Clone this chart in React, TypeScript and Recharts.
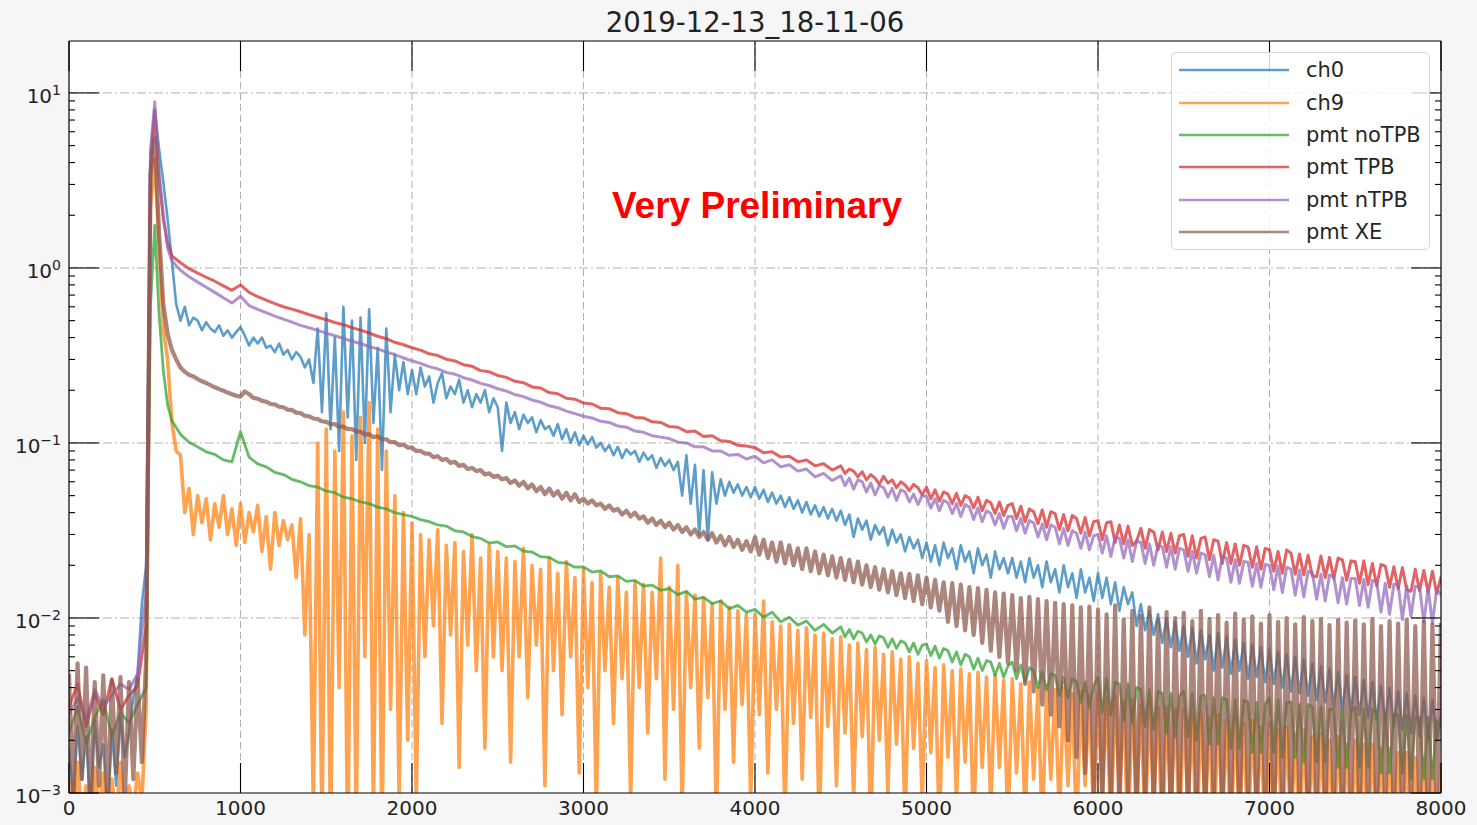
import React from 'react';
import { LineChart, Line, XAxis, YAxis, ReferenceLine } from 'recharts';

// sample positions (time bins)
const span = (from: number, to: number, step: number): number[] => {
  const out: number[] = [];
  for (let t = from; t <= to; t += step) out.push(t);
  return out;
};
const TIME_FINE = span(0, 8000, 25);
// PMT traces: 50 ns bins, finer around the peak and in the noisy tail
const TIME_PMT = [...span(0, 450, 50), 475, 500, 525, 550, 575, ...span(600, 4450, 50), ...span(4500, 8000, 25)];

// ---- fine-binned channels (TIME_FINE, 20 values per row = 500 ns) ----
const CH0 = [
  0.0018, 0.0009, 0.0024, 0.0012, 0.0021, 0.0008, 0.0026, 0.0014, 0.0019, 0.0007, 0.0023, 0.0011, 0.0027, 0.0016, 0.0022, 0.0035, 0.0048, 0.012, 0.02, 4.5,
  8.1, 4.8, 3.1, 1.9, 1.1, 0.62, 0.5, 0.6, 0.47, 0.52, 0.5, 0.44, 0.49, 0.45, 0.43, 0.47, 0.41, 0.44, 0.4, 0.43,
  0.46, 0.41, 0.36, 0.4, 0.37, 0.4, 0.35, 0.36, 0.33, 0.37, 0.32, 0.34, 0.3, 0.33, 0.31, 0.27, 0.3, 0.22, 0.45, 0.15,
  0.55, 0.12, 0.4, 0.09, 0.6, 0.14, 0.5, 0.08, 0.52, 0.1, 0.58, 0.13, 0.35, 0.07, 0.45, 0.15, 0.32, 0.2, 0.29, 0.19,
  0.26, 0.19, 0.27, 0.21, 0.24, 0.17, 0.22, 0.25, 0.18, 0.21, 0.19, 0.23, 0.17, 0.2, 0.16, 0.19, 0.17, 0.2, 0.15, 0.18,
  0.16, 0.09, 0.17, 0.13, 0.15, 0.12, 0.145, 0.13, 0.14, 0.115, 0.135, 0.12, 0.125, 0.11, 0.128, 0.105, 0.12, 0.1, 0.115, 0.097,
  0.11, 0.098, 0.108, 0.094, 0.1, 0.09, 0.097, 0.085, 0.095, 0.082, 0.092, 0.086, 0.09, 0.078, 0.088, 0.08, 0.085, 0.072, 0.082, 0.074,
  0.08, 0.07, 0.078, 0.05, 0.085, 0.045, 0.075, 0.03, 0.07, 0.028, 0.068, 0.045, 0.062, 0.05, 0.06, 0.052, 0.058, 0.05, 0.056, 0.049,
  0.056, 0.048, 0.054, 0.046, 0.052, 0.045, 0.05, 0.043, 0.049, 0.042, 0.047, 0.04, 0.046, 0.039, 0.044, 0.038, 0.043, 0.037, 0.042, 0.036,
  0.041, 0.034, 0.039, 0.029, 0.037, 0.032, 0.036, 0.028, 0.034, 0.03, 0.033, 0.026, 0.032, 0.027, 0.03, 0.024, 0.029, 0.025, 0.028, 0.022,
  0.027, 0.021, 0.026, 0.02, 0.027, 0.022, 0.025, 0.019, 0.026, 0.021, 0.024, 0.018, 0.025, 0.02, 0.023, 0.017, 0.024, 0.019, 0.022, 0.018,
  0.022, 0.017, 0.021, 0.016, 0.022, 0.017, 0.02, 0.015, 0.021, 0.016, 0.019, 0.014, 0.02, 0.015, 0.018, 0.013, 0.019, 0.014, 0.017, 0.0125,
  0.018, 0.013, 0.017, 0.012, 0.016, 0.011, 0.015, 0.012, 0.014, 0.009, 0.012, 0.0085, 0.011, 0.008, 0.0105, 0.0072, 0.01, 0.0068, 0.0095, 0.0065,
  0.009, 0.006, 0.0088, 0.0055, 0.0085, 0.0058, 0.008, 0.005, 0.0082, 0.0052, 0.0078, 0.0048, 0.0075, 0.005, 0.0072, 0.0045, 0.007, 0.0046, 0.0068, 0.0043,
  0.0066, 0.0042, 0.0064, 0.004, 0.0062, 0.0038, 0.006, 0.0037, 0.0058, 0.0036, 0.0055, 0.0034, 0.0053, 0.0033, 0.0051, 0.0031, 0.0049, 0.003, 0.0047, 0.0029,
  0.0046, 0.0028, 0.0044, 0.0027, 0.0043, 0.0026, 0.0041, 0.0025, 0.004, 0.0024, 0.0038, 0.0023, 0.0037, 0.0022, 0.0036, 0.0021, 0.0035, 0.002, 0.0034, 0.002,
  0.0028,
];

const CH9 = [
  0.0012, 0.0006, 0.0015, 0.0007, 0.0011, 0.0005, 0.0014, 0.0008, 0.0013, 0.0006, 0.0012, 0.0007, 0.0015, 0.0006, 0.0011, 0.0008, 0.0013, 0.0009, 0.003, 2.2,
  4.2, 1.3, 0.45, 0.3, 0.13, 0.09, 0.085, 0.04, 0.055, 0.03, 0.05, 0.035, 0.048, 0.028, 0.045, 0.033, 0.05, 0.03, 0.042, 0.026,
  0.045, 0.027, 0.04, 0.031, 0.044, 0.024, 0.038, 0.019, 0.04, 0.026, 0.036, 0.028, 0.034, 0.017, 0.037, 0.008, 0.03, 0.0008, 0.1, 0.0006,
  0.12, 0.0005, 0.09, 0.004, 0.15, 0.0004, 0.11, 0.0006, 0.14, 0.006, 0.17, 0.0007, 0.12, 0.0005, 0.09, 0.003, 0.05, 0.0009, 0.04, 0.002,
  0.035, 0.0009, 0.03, 0.006, 0.028, 0.009, 0.032, 0.0025, 0.026, 0.008, 0.027, 0.0014, 0.024, 0.007, 0.03, 0.005, 0.022, 0.0018, 0.026, 0.006,
  0.024, 0.005, 0.022, 0.0015, 0.021, 0.006, 0.025, 0.0035, 0.02, 0.007, 0.019, 0.0011, 0.022, 0.005, 0.018, 0.0028, 0.021, 0.006, 0.017, 0.0013,
  0.019, 0.004, 0.016, 0.0008, 0.018, 0.005, 0.015, 0.0025, 0.017, 0.0045, 0.014, 0.0009, 0.016, 0.004, 0.0155, 0.0022, 0.014, 0.0045, 0.022, 0.0012,
  0.015, 0.003, 0.02, 0.0008, 0.014, 0.004, 0.0135, 0.0018, 0.013, 0.0035, 0.012, 0.0007, 0.0125, 0.003, 0.0115, 0.0015, 0.011, 0.0032, 0.0105, 0.0009,
  0.0105, 0.0028, 0.0125, 0.0013, 0.0095, 0.003, 0.009, 0.0007, 0.0092, 0.0025, 0.0085, 0.0012, 0.0088, 0.0027, 0.008, 0.0006, 0.0082, 0.0024, 0.0076, 0.0011,
  0.0078, 0.0022, 0.007, 0.0009, 0.0072, 0.0021, 0.0066, 0.0006, 0.0068, 0.002, 0.0062, 0.001, 0.0064, 0.0019, 0.0058, 0.0007, 0.006, 0.0018, 0.0055, 0.0009,
  0.0057, 0.0017, 0.0052, 0.0006, 0.0054, 0.0016, 0.005, 0.0009, 0.0051, 0.0015, 0.0048, 0.0006, 0.0049, 0.0014, 0.0046, 0.0008, 0.0047, 0.0014, 0.0044, 0.0006,
  0.0045, 0.0013, 0.0042, 0.0007, 0.0043, 0.0012, 0.004, 0.0006, 0.0041, 0.0012, 0.0039, 0.0007, 0.004, 0.0011, 0.0037, 0.0006, 0.0038, 0.0011, 0.0036, 0.0007,
  0.0037, 0.001, 0.0035, 0.0006, 0.0036, 0.001, 0.0033, 0.0005, 0.0034, 0.0009, 0.0032, 0.0006, 0.0033, 0.0009, 0.0031, 0.0005, 0.0031, 0.0008, 0.003, 0.0006,
  0.003, 0.0008, 0.0028, 0.0005, 0.0029, 0.0008, 0.0027, 0.0005, 0.0028, 0.0007, 0.0026, 0.0005, 0.0027, 0.0007, 0.0025, 0.0005, 0.0026, 0.0007, 0.0024, 0.0005,
  0.0025, 0.0007, 0.0023, 0.0005, 0.0024, 0.0006, 0.0022, 0.0005, 0.0023, 0.0006, 0.0021, 0.0005, 0.0022, 0.0006, 0.002, 0.0005, 0.0021, 0.0006, 0.0019, 0.0005,
  0.002, 0.0006, 0.0019, 0.0005, 0.0019, 0.0006, 0.0018, 0.0005, 0.0018, 0.0006, 0.0017, 0.0005, 0.0017, 0.0006, 0.0016, 0.0005, 0.0016, 0.0006, 0.0015, 0.0005,
  0.0015,
];

const PMT_XE = [
  0.0048, 0.0009, 0.0055, 0.0012, 0.0052, 0.0007, 0.0043, 0.0011, 0.0047, 0.0008, 0.0044, 0.0013, 0.0046, 0.0009, 0.0043, 0.0012, 0.0045, 0.0015, 0.006, 3.5,
  5.5, 1.6, 0.62, 0.42, 0.34, 0.3, 0.27, 0.255, 0.245, 0.24, 0.232, 0.225, 0.22, 0.214, 0.208, 0.203, 0.199, 0.194, 0.19, 0.186,
  0.184, 0.197, 0.19, 0.181, 0.179, 0.174, 0.172, 0.167, 0.166, 0.161, 0.16, 0.155, 0.154, 0.149, 0.148, 0.143, 0.142, 0.138, 0.137, 0.133,
  0.132, 0.128, 0.128, 0.124, 0.124, 0.12, 0.12, 0.116, 0.116, 0.112, 0.112, 0.108, 0.109, 0.105, 0.105, 0.101, 0.101, 0.097, 0.098, 0.094,
  0.094, 0.09, 0.09, 0.087, 0.087, 0.083, 0.084, 0.08, 0.081, 0.077, 0.078, 0.074, 0.075, 0.071, 0.072, 0.069, 0.07, 0.066, 0.067, 0.064,
  0.065, 0.062, 0.063, 0.059, 0.061, 0.057, 0.06, 0.055, 0.058, 0.053, 0.056, 0.051, 0.055, 0.05, 0.053, 0.048, 0.052, 0.047, 0.051, 0.046,
  0.048, 0.045, 0.047, 0.044, 0.045, 0.042, 0.044, 0.041, 0.042, 0.039, 0.041, 0.038, 0.04, 0.037, 0.038, 0.035, 0.037, 0.034, 0.036, 0.033,
  0.035, 0.032, 0.034, 0.031, 0.033, 0.03, 0.032, 0.029, 0.031, 0.028, 0.0305, 0.027, 0.0295, 0.026, 0.029, 0.0255, 0.028, 0.0245, 0.0275, 0.024,
  0.029, 0.023, 0.028, 0.022, 0.027, 0.021, 0.027, 0.0205, 0.026, 0.02, 0.025, 0.019, 0.025, 0.0185, 0.024, 0.018, 0.023, 0.0175, 0.0225, 0.017,
  0.022, 0.0165, 0.0215, 0.016, 0.021, 0.0155, 0.02, 0.015, 0.0195, 0.0145, 0.019, 0.014, 0.0185, 0.0135, 0.018, 0.013, 0.0178, 0.0125, 0.0175, 0.012,
  0.017, 0.0115, 0.0165, 0.011, 0.016, 0.0095, 0.0158, 0.009, 0.0155, 0.0085, 0.015, 0.008, 0.0148, 0.0072, 0.0145, 0.0065, 0.014, 0.006, 0.0138, 0.0055,
  0.0135, 0.005, 0.013, 0.0042, 0.0132, 0.0038, 0.0128, 0.0032, 0.0125, 0.0028, 0.0122, 0.0024, 0.012, 0.002, 0.0118, 0.0016, 0.0115, 0.0013, 0.0116, 0.001,
  0.0112, 0.0008, 0.0105, 0.0009, 0.0118, 0.0007, 0.0098, 0.001, 0.011, 0.0006, 0.0103, 0.0009, 0.0115, 0.0007, 0.0097, 0.0008, 0.0108, 0.0006, 0.01, 0.0009,
  0.0107, 0.0007, 0.0096, 0.0008, 0.011, 0.0006, 0.0099, 0.0009, 0.0104, 0.0007, 0.0094, 0.0008, 0.0106, 0.0006, 0.0098, 0.0009, 0.0102, 0.0007, 0.0093, 0.0008,
  0.0104, 0.0006, 0.0095, 0.0008, 0.01, 0.0007, 0.0092, 0.0009, 0.0101, 0.0006, 0.0096, 0.0008, 0.0099, 0.0007, 0.0091, 0.0008, 0.0098, 0.0006, 0.0094, 0.0008,
  0.0097, 0.0007, 0.0092, 0.0008, 0.0099, 0.0006, 0.009, 0.0008, 0.0096, 0.0007, 0.0093, 0.0006, 0.0098, 0.0008, 0.009, 0.0007, 0.0095, 0.0006, 0.0092, 0.0008,
  0.0094,
];

// ---- PMT traces on TIME_PMT: 0-450 | 475-575 | 600-950 | 10 per row to 4450 | 20 per row from 4500 ----
const PMT_NOTPB = [
  0.0022, 0.0031, 0.0019, 0.0027, 0.0034, 0.0021, 0.0029, 0.0025, 0.0032, 0.004,
  0.6, 1.75, 0.55, 0.26, 0.165,
  0.134, 0.112, 0.101, 0.095, 0.089, 0.086, 0.08, 0.078,
  0.116, 0.083, 0.076, 0.073, 0.068, 0.066, 0.062, 0.06, 0.057, 0.056,
  0.053, 0.052, 0.049, 0.048, 0.046, 0.045, 0.043, 0.042, 0.04, 0.039,
  0.038, 0.0365, 0.0355, 0.034, 0.0335, 0.0315, 0.031, 0.0292, 0.0285, 0.0268,
  0.0272, 0.0255, 0.0258, 0.0241, 0.0238, 0.0224, 0.0222, 0.0208, 0.0206, 0.0195,
  0.0196, 0.0183, 0.0186, 0.0172, 0.0174, 0.0162, 0.0164, 0.0152, 0.0154, 0.0144,
  0.0147, 0.0136, 0.0142, 0.0128, 0.0131, 0.0121, 0.0125, 0.0113, 0.0118, 0.0108,
  0.0112, 0.0101, 0.0108, 0.0095, 0.0101, 0.0091, 0.0096, 0.0085, 0.0092, 0.0082,
  0.0089, 0.0078, 0.0086, 0.0076, 0.0084, 0.0082, 0.0073, 0.008, 0.0071, 0.0079, 0.0077, 0.0068, 0.0076, 0.0067, 0.0074, 0.0072, 0.0064, 0.0072, 0.0062, 0.007,
  0.0071, 0.0061, 0.0069, 0.0059, 0.0067, 0.0065, 0.0056, 0.0064, 0.0054, 0.0062, 0.006, 0.0051, 0.0059, 0.005, 0.0057, 0.0056, 0.0047, 0.0055, 0.0046, 0.0053,
  0.0056, 0.0045, 0.0054, 0.0043, 0.0052, 0.005, 0.004, 0.0049, 0.0039, 0.0048, 0.0047, 0.0036, 0.0046, 0.0035, 0.0045, 0.0043, 0.0033, 0.0043, 0.0031, 0.0041,
  0.0046, 0.0029, 0.0045, 0.0028, 0.0043, 0.0042, 0.0026, 0.0042, 0.0025, 0.004, 0.0039, 0.0024, 0.0039, 0.0023, 0.0038, 0.0037, 0.0022, 0.0037, 0.0021, 0.0036,
  0.0038, 0.0021, 0.0037, 0.002, 0.0036, 0.0036, 0.0019, 0.0035, 0.0019, 0.0035, 0.0034, 0.0018, 0.0034, 0.0018, 0.0034, 0.0033, 0.0017, 0.0033, 0.0017, 0.0032,
  0.0035, 0.0017, 0.0034, 0.0016, 0.0033, 0.0033, 0.0016, 0.0032, 0.0015, 0.0032, 0.0031, 0.0015, 0.0031, 0.0015, 0.003, 0.003, 0.0014, 0.003, 0.0014, 0.0029,
  0.0031, 0.0014, 0.003, 0.0014, 0.003, 0.0029, 0.0013, 0.0029, 0.0013, 0.0028, 0.0028, 0.0013, 0.0028, 0.0012, 0.0027, 0.0027, 0.0012, 0.0027, 0.0012, 0.0026,
  0.0024,
];

const PMT_TPB = [
  0.0031, 0.0042, 0.0024, 0.0037, 0.0028, 0.0045, 0.003, 0.0036, 0.0041, 0.009,
  3.2, 7.8, 3.3, 1.9, 1.38,
  1.17, 1.07, 0.99, 0.935, 0.885, 0.84, 0.79, 0.745,
  0.8, 0.725, 0.685, 0.655, 0.625, 0.6, 0.582, 0.562, 0.541, 0.523,
  0.506, 0.488, 0.474, 0.456, 0.441, 0.425, 0.407, 0.394, 0.376, 0.364,
  0.35, 0.339, 0.323, 0.316, 0.301, 0.294, 0.28, 0.274, 0.259, 0.255,
  0.243, 0.237, 0.225, 0.221, 0.209, 0.206, 0.194, 0.191, 0.18, 0.178,
  0.169, 0.167, 0.158, 0.157, 0.149, 0.147, 0.14, 0.139, 0.132, 0.131,
  0.124, 0.123, 0.116, 0.117, 0.109, 0.11, 0.103, 0.102, 0.097, 0.096,
  0.094, 0.088, 0.089, 0.083, 0.084, 0.078, 0.08, 0.074, 0.076, 0.07,
  0.074, 0.067, 0.071, 0.069, 0.064, 0.0685, 0.0615, 0.066, 0.063, 0.058, 0.0645, 0.059, 0.0615, 0.0555, 0.06, 0.0575, 0.0535, 0.058, 0.0555, 0.0505,
  0.056, 0.048, 0.054, 0.0465, 0.0525, 0.051, 0.045, 0.0515, 0.044, 0.05, 0.0485, 0.0425, 0.049, 0.041, 0.047, 0.0455, 0.0395, 0.046, 0.0385, 0.044,
  0.045, 0.037, 0.0435, 0.0355, 0.042, 0.0405, 0.0345, 0.0415, 0.033, 0.0405, 0.0395, 0.032, 0.039, 0.0315, 0.0385, 0.037, 0.0305, 0.0375, 0.0295, 0.0355,
  0.036, 0.028, 0.035, 0.0355, 0.027, 0.034, 0.0265, 0.0335, 0.026, 0.0275, 0.0325, 0.025, 0.032, 0.031, 0.0245, 0.031, 0.024, 0.0305, 0.0235, 0.0295,
  0.03, 0.0225, 0.0295, 0.022, 0.0285, 0.029, 0.0215, 0.028, 0.0275, 0.0205, 0.027, 0.0205, 0.0265, 0.02, 0.026, 0.0255, 0.0195, 0.0255, 0.019, 0.025,
  0.0245, 0.0185, 0.024, 0.018, 0.0245, 0.0235, 0.0178, 0.0232, 0.0176, 0.0228, 0.0174, 0.0172, 0.0226, 0.017, 0.0222, 0.0168, 0.022, 0.0215, 0.0164, 0.0212,
  0.021, 0.0158, 0.0212, 0.0155, 0.0205, 0.0153, 0.0202, 0.0198, 0.015, 0.0196, 0.0147, 0.0194, 0.0145, 0.0142, 0.019, 0.0143, 0.0187, 0.014, 0.0185, 0.0138,
  0.0172,
];

const PMT_NTPB = [
  0.0028, 0.0035, 0.0026, 0.0039, 0.0031, 0.0036, 0.0042, 0.0039, 0.0048, 0.014,
  4.6, 8.9, 3.5, 2.0, 1.3,
  1.1, 0.97, 0.89, 0.83, 0.775, 0.725, 0.675, 0.63,
  0.69, 0.61, 0.58, 0.555, 0.53, 0.51, 0.49, 0.47, 0.455, 0.44,
  0.424, 0.41, 0.396, 0.381, 0.37, 0.355, 0.345, 0.331, 0.32, 0.306,
  0.295, 0.285, 0.273, 0.265, 0.253, 0.247, 0.236, 0.229, 0.219, 0.213,
  0.204, 0.198, 0.189, 0.184, 0.176, 0.171, 0.163, 0.159, 0.152, 0.147,
  0.142, 0.139, 0.133, 0.131, 0.125, 0.123, 0.117, 0.115, 0.11, 0.108,
  0.106, 0.101, 0.1, 0.095, 0.095, 0.09, 0.09, 0.085, 0.086, 0.081,
  0.084, 0.077, 0.08, 0.073, 0.075, 0.069, 0.071, 0.064, 0.067, 0.061,
  0.065, 0.057, 0.063, 0.0545, 0.0615, 0.06, 0.0525, 0.059, 0.0505, 0.057, 0.0555, 0.049, 0.055, 0.047, 0.054, 0.0525, 0.046, 0.051, 0.0445, 0.05,
  0.0495, 0.0425, 0.048, 0.041, 0.047, 0.0455, 0.0395, 0.045, 0.038, 0.0445, 0.043, 0.0365, 0.0425, 0.0355, 0.041, 0.0395, 0.034, 0.0395, 0.0325, 0.038,
  0.038, 0.0315, 0.037, 0.0305, 0.036, 0.035, 0.029, 0.0345, 0.028, 0.034, 0.033, 0.0265, 0.0325, 0.026, 0.0315, 0.0305, 0.025, 0.031, 0.0245, 0.0295,
  0.03, 0.0235, 0.0295, 0.0225, 0.029, 0.0285, 0.022, 0.028, 0.021, 0.0275, 0.027, 0.0205, 0.0265, 0.02, 0.026, 0.0255, 0.0195, 0.0255, 0.019, 0.025,
  0.0245, 0.0185, 0.024, 0.018, 0.0235, 0.023, 0.0172, 0.0228, 0.0165, 0.0225, 0.022, 0.016, 0.0215, 0.0158, 0.021, 0.0208, 0.0152, 0.0205, 0.015, 0.0202,
  0.02, 0.0145, 0.0198, 0.014, 0.0195, 0.019, 0.0135, 0.0188, 0.0132, 0.0185, 0.018, 0.0128, 0.0178, 0.0125, 0.0176, 0.0172, 0.0122, 0.017, 0.012, 0.0168,
  0.0168, 0.0118, 0.0166, 0.0115, 0.0164, 0.016, 0.0108, 0.0158, 0.0105, 0.0156, 0.0155, 0.0098, 0.0153, 0.0102, 0.0152, 0.015, 0.0095, 0.0148, 0.0093, 0.0147,
  0.0135,
];

// ---- axes ----
const X_TICKS = [0, 1000, 2000, 3000, 4000, 5000, 6000, 7000, 8000];
const X_GRID = [1000, 2000, 3000, 4000, 5000, 6000, 7000];
const Y_MAJOR = [0.001, 0.01, 0.1, 1, 10];
const Y_EXPONENTS = ['\u22123', '\u22122', '\u22121', '0', '1'];
const Y_GRID = [0.01, 0.1, 1, 10];
const Y_MINOR_MULT = [2, 3, 4, 5, 6, 7, 8, 9];
const Y_DOMAIN: [number, number] = [0.001, 19.8];
const Y_TICKS = [
  ...Y_MAJOR,
  ...Y_MAJOR.flatMap((d) => Y_MINOR_MULT.map((m) => +(m * d).toPrecision(3))).filter((v) => v < Y_DOMAIN[1]),
].sort((a, b) => a - b);

const SERIES = [
  { key: 'ch0', name: 'ch0', color: '#1f77b4', width: 2.6 },
  { key: 'ch9', name: 'ch9', color: '#ff7f0e', width: 3.6 },
  { key: 'noTPB', name: 'pmt noTPB', color: '#2ca02c', width: 2.8 },
  { key: 'tpb', name: 'pmt TPB', color: '#d62728', width: 3 },
  { key: 'ntpb', name: 'pmt nTPB', color: '#9467bd', width: 3 },
  { key: 'xe', name: 'pmt XE', color: '#8c564b', width: 4.2 },
];
const ALPHA = 0.72;
const FONT = "'DejaVu Sans', sans-serif";

const pmtMap = (vals: number[]) => new Map(TIME_PMT.map((t, i) => [t, vals[i]]));
const noMap = pmtMap(PMT_NOTPB);
const tpbMap = pmtMap(PMT_TPB);
const ntpbMap = pmtMap(PMT_NTPB);

const DATA = TIME_FINE.map((t, i) => ({
  t,
  ch0: CH0[i],
  ch9: CH9[i],
  xe: PMT_XE[i],
  noTPB: noMap.has(t) ? noMap.get(t) : null,
  tpb: tpbMap.has(t) ? tpbMap.get(t) : null,
  ntpb: ntpbMap.has(t) ? ntpbMap.get(t) : null,
}));

const MAJOR_LEN = 30;
const MINOR_LEN = 6;
const LABEL_GAP = 8;
const isDecade = (v: number) => Math.abs(Math.log10(v) - Math.round(Math.log10(v))) < 1e-6;

const LeftTick = (props: any) => {
  const { x, y, payload } = props;
  const v = payload.value;
  const edge = x + LABEL_GAP;
  const major = isDecade(v);
  const idx = Y_MAJOR.findIndex((m) => Math.abs(m - v) / m < 1e-6);
  return (
    <g>
      <line x1={edge} x2={edge + (major ? MAJOR_LEN : MINOR_LEN)} y1={y} y2={y} stroke="#000" strokeWidth={1.1} />
      {major && idx >= 0 && (
        <text x={edge - LABEL_GAP} y={y + 10} textAnchor="end" fontSize={20} fill="#222" fontFamily={FONT}>
          <tspan>10</tspan>
          <tspan dy={-8} fontSize={14}>{Y_EXPONENTS[idx]}</tspan>
        </text>
      )}
    </g>
  );
};

const RightTick = (props: any) => {
  const { x, y, payload } = props;
  const major = isDecade(payload.value);
  return <line x1={x} x2={x - (major ? MAJOR_LEN : MINOR_LEN)} y1={y} y2={y} stroke="#000" strokeWidth={1.1} />;
};

const BottomTick = (props: any) => {
  const { x, y, payload } = props;
  const edge = y - LABEL_GAP;
  return (
    <g>
      <line x1={x} x2={x} y1={edge} y2={edge - MAJOR_LEN} stroke="#000" strokeWidth={1.1} />
      <text x={x} y={edge + 22} textAnchor="middle" fontSize={20} fill="#222" fontFamily={FONT}>
        {payload.value}
      </text>
    </g>
  );
};

const TopTick = (props: any) => {
  const { x, y } = props;
  return <line x1={x} x2={x} y1={y} y2={y + MAJOR_LEN} stroke="#000" strokeWidth={1.1} />;
};

const fade = (hex: string) => {
  const n = parseInt(hex.slice(1), 16);
  const r = (n >> 16) & 255, g = (n >> 8) & 255, b = n & 255;
  return `rgba(${r},${g},${b},${ALPHA})`;
};

// figure layout
const FIG_W = 1477;
const FIG_H = 825;
const PLOT = { left: 69, top: 41, right: 1441, bottom: 793 };

export default function App() {
  return (
    <div style={{ position: 'absolute', left: 0, top: 0, width: FIG_W, height: FIG_H, background: '#f6f6f6', overflow: 'hidden' }}>
      {/* white axes background */}
      <div
        style={{
          position: 'absolute', left: PLOT.left, top: PLOT.top,
          width: PLOT.right - PLOT.left, height: PLOT.bottom - PLOT.top, background: '#ffffff',
        }}
      />
      <div
        style={{
          position: 'absolute', left: PLOT.left, width: PLOT.right - PLOT.left, top: 6, textAlign: 'center',
          fontFamily: FONT, fontSize: 27.5, lineHeight: '32px', color: '#222',
        }}
      >
        2019-12-13_18-11-06
      </div>
      <LineChart
        width={FIG_W}
        height={FIG_H}
        data={DATA}
        margin={{ top: PLOT.top - 1, right: FIG_W - PLOT.right - 1, bottom: 0, left: PLOT.left - 60 }}
        style={{ position: 'relative' }}
      >
        <XAxis
          dataKey="t" type="number" domain={[0, 8000]} ticks={X_TICKS} interval={0}
          height={FIG_H - PLOT.bottom} tickSize={0} tickMargin={LABEL_GAP} tickLine={false}
          axisLine={{ stroke: '#000', strokeWidth: 1.2 }} tick={<BottomTick />} allowDataOverflow
        />
        <XAxis
          xAxisId="top" orientation="top" dataKey="t" type="number" domain={[0, 8000]} ticks={X_TICKS} interval={0}
          height={1} tickSize={0} tickMargin={0} tickLine={false}
          axisLine={{ stroke: '#000', strokeWidth: 1.2 }} tick={<TopTick />} allowDataOverflow
        />
        <YAxis
          scale="log" type="number" domain={Y_DOMAIN} ticks={Y_TICKS} interval={0} allowDataOverflow
          width={60} tickSize={0} tickMargin={LABEL_GAP} tickLine={false}
          axisLine={{ stroke: '#000', strokeWidth: 1.2 }} tick={<LeftTick />}
        />
        <YAxis
          yAxisId="right" orientation="right" scale="log" type="number" domain={Y_DOMAIN} ticks={Y_TICKS} interval={0}
          allowDataOverflow width={1} tickSize={0} tickMargin={0} tickLine={false}
          axisLine={{ stroke: '#000', strokeWidth: 1.2 }} tick={<RightTick />}
        />
        {Y_GRID.map((v) => (
          <ReferenceLine key={`gy${v}`} y={v} stroke="#a8a8a8" strokeWidth={0.9} strokeDasharray="9 3 2 3" />
        ))}
        {X_GRID.map((v) => (
          <ReferenceLine key={`gx${v}`} x={v} stroke="#a8a8a8" strokeWidth={0.9} strokeDasharray="7 4" />
        ))}
        {SERIES.map((s) => (
          <Line
            key={s.key}
            dataKey={s.key}
            name={s.name}
            type="linear"
            stroke={s.color}
            strokeOpacity={ALPHA}
            strokeWidth={s.width}
            strokeLinejoin="round"
            dot={false}
            activeDot={false}
            connectNulls
            isAnimationActive={false}
          />
        ))}
      </LineChart>
      <div
        style={{
          position: 'absolute', left: 757, top: 187, transform: 'translateX(-50%)', whiteSpace: 'nowrap',
          fontFamily: "'Liberation Sans', Arial, sans-serif", fontWeight: 'bold', fontSize: 37, lineHeight: '37px', color: '#ff0000',
        }}
      >
        Very Preliminary
      </div>
      <div
        style={{
          position: 'absolute', left: 1171, top: 52, width: 259, height: 198, boxSizing: 'border-box',
          border: '1px solid #d6d6d6', borderRadius: 5, background: 'rgba(255,255,255,0.82)', paddingTop: 1,
        }}
      >
        {SERIES.map((s) => (
          <div key={s.key} style={{ height: 32.4, display: 'flex', alignItems: 'center' }}>
            <svg width={110} height={6} style={{ marginLeft: 7, display: 'block' }}>
              <line x1={0} x2={110} y1={3} y2={3} stroke={fade(s.color)} strokeWidth={2.4} />
            </svg>
            <span style={{ marginLeft: 17, fontFamily: FONT, fontSize: 21, color: '#262626', lineHeight: '24px' }}>{s.name}</span>
          </div>
        ))}
      </div>
    </div>
  );
}
